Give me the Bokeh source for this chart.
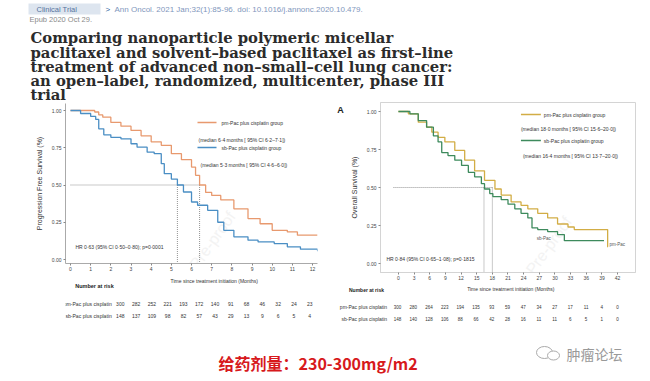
from bokeh.plotting import figure
from bokeh.layouts import column, row
from bokeh.models import Range1d, FixedTicker, NumeralTickFormatter
from bokeh.core.properties import value
from bokeh.embed import file_html
from bokeh.resources import INLINE

SANS = "Liberation Sans"
SERIF = "DejaVu Serif"
CJK = "Noto Sans CJK SC"

# ---------------- data ----------------
pfs_pm_t = [0, 1.2, 1.4, 1.6, 2.0, 2.5, 3.0, 3.5, 4.0, 4.5, 5.0, 5.5, 6.0, 6.2, 6.4, 6.7, 7.0, 7.45, 8.1, 8.8, 9.4, 10.0, 10.75, 11.25, 12.25]
pfs_pm_s = [1.0, 0.99, 0.97, 0.955, 0.92, 0.895, 0.866, 0.83, 0.79, 0.766, 0.71, 0.67, 0.62, 0.565, 0.50, 0.45, 0.43, 0.40, 0.34, 0.275, 0.24, 0.196, 0.185, 0.163, 0.163]
pfs_sb_t = [0, 0.5, 1.0, 1.25, 1.4, 1.65, 2.0, 2.5, 3.0, 3.3, 3.8, 4.15, 4.5, 4.65, 5.0, 5.3, 5.6, 6.0, 6.3, 6.8, 7.3, 7.6, 8.1, 8.8, 9.3, 10.1, 10.75, 11.4, 12.25]
pfs_sb_s = [1.0, 0.98, 0.96, 0.94, 0.877, 0.837, 0.82, 0.81, 0.777, 0.754, 0.72, 0.71, 0.643, 0.576, 0.54, 0.50, 0.453, 0.386, 0.364, 0.33, 0.25, 0.196, 0.152, 0.13, 0.118, 0.107, 0.085, 0.069, 0.056]

os_pm_t = [0, 1.9, 3.8, 5.4, 6.4, 7.6, 8.9, 10.8, 12.7, 14.6, 16.5, 18.5, 19.7, 21.6, 23.5, 24.8, 26.7, 28.6, 30.5, 32.5, 33.7, 40.1, 40.15]
os_pm_s = [1.0, 0.985, 0.93, 0.897, 0.864, 0.83, 0.80, 0.744, 0.68, 0.61, 0.547, 0.49, 0.45, 0.405, 0.383, 0.36, 0.33, 0.30, 0.26, 0.24, 0.223, 0.11, 0.11]
os_sb_t = [0, 2.2, 3.8, 5.4, 6.7, 7.6, 8.3, 9.5, 10.8, 12.1, 13.4, 14.6, 15.9, 16.5, 17.5, 18.1, 19.7, 21.0, 22.3, 23.5, 24.8, 25.6, 26.7, 28.6, 30.5, 31.8, 39.4]
os_sb_s = [1.0, 0.985, 0.94, 0.897, 0.84, 0.80, 0.73, 0.71, 0.68, 0.645, 0.60, 0.57, 0.525, 0.49, 0.46, 0.44, 0.42, 0.39, 0.36, 0.33, 0.30, 0.234, 0.223, 0.21, 0.19, 0.15, 0.15]

pfs_medians = [6.4, 5.3]
os_medians = [18.0, 16.4]

pfs_ticks = list(range(0, 13))
os_ticks = list(range(0, 43, 3))
surv_ticks = [0, 0.25, 0.5, 0.75, 1.0]

pfs_risk_pm = [300, 282, 252, 221, 193, 172, 140, 91, 68, 46, 32, 24, 23]
pfs_risk_sb = [148, 137, 109, 98, 82, 57, 43, 29, 13, 9, 6, 5, 4]
os_risk_pm = [300, 280, 264, 223, 194, 135, 93, 59, 47, 34, 27, 17, 11, 4, 0]
os_risk_sb = [148, 140, 128, 106, 88, 66, 42, 28, 16, 11, 11, 6, 5, 1, 0]

risk_rows = ["pm-Pac  plus cisplatin", "sb-Pac  plus cisplatin"]

pfs_legend = ["pm-Pac  plus cisplatin group", "(median 6\u00b74 months [ 95% CI  6\u00b72\u20137\u00b71])",
              "sb-Pac  plus cisplatin group", "(median 5\u00b73 months [ 95% CI  4\u00b76\u20136\u00b70])"]
os_legend = ["pm-Pac  plus cisplatin group", "(median 18\u00b70 months [ 95% CI  15\u00b76\u201320\u00b70])",
             "sb-Pac  plus cisplatin group", "(median 16\u00b74 months [ 95% CI  13\u00b77\u201320\u00b70])"]
pfs_hr = "HR 0\u00b763 (95% CI 0\u00b750\u20130\u00b780); p=0\u00b70001"
os_hr = "HR 0\u00b784 (95% CI 0\u00b765\u20131\u00b708); p=0\u00b71815"

title_lines = ["Comparing nanoparticle polymeric micellar",
               "paclitaxel and solvent\u2013based paclitaxel as first\u2013line",
               "treatment of advanced non\u2013small\u2013cell lung cancer:",
               "an open\u2013label, randomized, multicenter, phase III",
               "trial"]

ORANGE = "#e8996e"
BLUE = "#4a8ec4"
GOLD = "#d2ad45"
GREEN = "#3d8a5c"
TXT = "#333333"


def fs(px):
    return value(f"{px}px")


def blank(w, h, xr, yr):
    p = figure(width=w, height=h, x_range=xr, y_range=yr, output_backend="svg",
               toolbar_location=None, min_border=0, x_axis_type=None, y_axis_type=None,
               title=None)
    p.grid.visible = False
    p.outline_line_color = None
    p.background_fill_color = "white"
    p.border_fill_color = "white"
    return p


def km(w, h, xr, yr, mb, xticks, outline):
    p = figure(width=w, height=h, x_range=xr, y_range=yr, output_backend="svg",
               toolbar_location=None, title=None,
               min_border_left=mb[0], min_border_right=mb[1],
               min_border_top=mb[2], min_border_bottom=mb[3])
    p.grid.visible = False
    p.outline_line_color = outline
    p.border_fill_color = "white"
    for ax in (p.xaxis[0], p.yaxis[0]):
        ax.axis_line_color = "#aaaaaa" if outline is None else outline
        ax.major_tick_line_color = "#888888"
        ax.minor_tick_line_color = None
        ax.major_tick_in = 0
        ax.major_tick_out = 2
        ax.major_label_text_font = SANS
        ax.major_label_text_font_size = "5px"
        ax.major_label_text_color = "#444444"
        ax.axis_label_text_font = SANS
        ax.axis_label_text_font_style = "normal"
        ax.axis_label_text_color = TXT
    p.xaxis.ticker = FixedTicker(ticks=xticks)
    p.yaxis.ticker = FixedTicker(ticks=surv_ticks)
    p.yaxis.formatter = NumeralTickFormatter(format="0.00")
    p.xaxis.major_label_standoff = 1
    p.yaxis.major_label_standoff = 2
    return p


# ---------------- header ----------------
W = 650
head = blank(W, 102, Range1d(0, 650), Range1d(102, 0))
head.quad(left=[28], right=[100], top=[3], bottom=[14], fill_color="#dde5ef", line_color=None)
head.text(x=[36], y=[8.5], text=["Clinical Trial"], text_font=value(SANS), text_font_size=fs(7.5),
          text_color="#55739e", text_baseline="middle")
head.text(x=[105], y=[8.5], text=[">"], text_font=value(SANS), text_font_size=fs(8),
          text_color="#2f5f9e", text_baseline="middle")
head.text(x=[114], y=[8.5], text=["Ann Oncol. 2021 Jan;32(1):85-96. doi: 10.1016/j.annonc.2020.10.479."],
          text_font=value(SANS), text_font_size=fs(8), text_color="#7f97bd", text_baseline="middle")
head.text(x=[29], y=[19], text=["Epub 2020 Oct 29."], text_font=value(SANS), text_font_size=fs(7.5),
          text_color="#8a8a8a", text_baseline="middle")
head.text(x=[30] * 5, y=[37, 51.5, 66, 80, 93.5], text=title_lines, text_font=value(SERIF),
          text_font_style="bold", text_font_size=fs(14.8), text_color="#2b2b2b", text_baseline="middle")


# ---------------- left KM (PFS) ----------------
def t_l(px):
    return (px - 70) / 20.17


def s_l(py):
    return (259 - py) / 149


kl = km(322, 175, Range1d(t_l(65), t_l(317)), Range1d(s_l(263), s_l(103)), (65, 5, 1, 14), pfs_ticks, None)
kl.yaxis.axis_label = "Progression Free Survival (%)"
kl.yaxis.axis_label_text_font_size = "7px"
kl.yaxis.axis_label_standoff = 6
kl.text(x=[t_l(212)], y=[s_l(240)], text=["Pre-proof"], text_font=value(SANS), text_font_size=fs(16),
        text_color="#f3f3f3", text_align="center", text_baseline="middle", angle=0.95)
kl.segment(x0=[0], y0=[0.5], x1=[max(pfs_medians)], y1=[0.5], line_color="#777777", line_dash="1 1", line_width=0.8)
kl.segment(x0=pfs_medians, y0=[0.5] * 2, x1=pfs_medians, y1=[s_l(263)] * 2, line_color="#777777",
           line_dash="1 1", line_width=0.8)
kl.step(pfs_pm_t, pfs_pm_s, mode="after", line_color=ORANGE, line_width=1.3)
kl.step(pfs_sb_t, pfs_sb_s, mode="after", line_color=BLUE, line_width=1.3)
kl.segment(x0=[t_l(197), t_l(197)], y0=[s_l(122), s_l(147)], x1=[t_l(216), t_l(216)], y1=[s_l(122), s_l(147)],
           line_color=[ORANGE, BLUE], line_width=1.3)
kl.text(x=[t_l(221), t_l(198), t_l(221), t_l(200)], y=[s_l(122), s_l(139), s_l(147), s_l(164)],
        text=pfs_legend, text_font=value(SANS), text_font_size=fs(5), text_color=TXT, text_baseline="middle")
kl.text(x=[t_l(75)], y=[s_l(246)], text=[pfs_hr], text_font=value(SANS), text_font_size=fs(5),
        text_color=TXT, text_baseline="middle")

rl = blank(322, 49, Range1d(t_l(0), t_l(322)), Range1d(326, 277))
rl.text(x=[t_l(191)], y=[280.5], text=["Time since treatment initiation  (Months)"], text_font=value(SANS),
        text_font_size=fs(5), text_color=TXT, text_align="center", text_baseline="middle")
rl.text(x=[t_l(37)], y=[285.5], text=["Number at risk"], text_font=value(SANS), text_font_style="bold",
        text_font_size=fs(5.5), text_color="#222222", text_align="center", text_baseline="middle")
rl.text(x=[t_l(61)] * 2, y=[303, 315], text=risk_rows, text_font=value(SANS), text_font_size=fs(5.1),
        text_color=TXT, text_align="right", text_baseline="middle")
rl.text(x=pfs_ticks, y=[303] * len(pfs_ticks), text=[str(v) for v in pfs_risk_pm], text_font=value(SANS),
        text_font_size=fs(5), text_color=TXT, text_align="center", text_baseline="middle")
rl.text(x=pfs_ticks, y=[315] * len(pfs_ticks), text=[str(v) for v in pfs_risk_sb], text_font=value(SANS),
        text_font_size=fs(5), text_color=TXT, text_align="center", text_baseline="middle")


# ---------------- right KM (OS) ----------------
def t_r(px):
    return (px - 397) / 5.238


def s_r(py):
    return (263 - py) / 152


astrip = blank(25, 181, Range1d(322, 347), Range1d(283, 102))
astrip.text(x=[340], y=[110], text=["A"], text_font=value(SANS), text_font_style="bold",
            text_font_size=fs(9), text_color="#222222", text_align="center", text_baseline="middle")

kr = km(303, 181, Range1d(t_r(379), t_r(635)), Range1d(s_r(272), s_r(102)), (32, 15, 0, 11), os_ticks, "#d4d4d4")
kr.yaxis.axis_label = "Overall Survival (%)"
kr.yaxis.axis_label_text_font_size = "7px"
kr.yaxis.axis_label_standoff = 6
kr.text(x=[t_r(548)], y=[s_r(245)], text=["Pre-proof"], text_font=value(SANS), text_font_size=fs(16),
        text_color="#f3f3f3", text_align="center", text_baseline="middle", angle=0.95)
kr.segment(x0=[t_r(392)], y0=[0.5], x1=[max(os_medians)], y1=[0.5], line_color="#777777", line_dash="1 1", line_width=0.8)
kr.segment(x0=os_medians, y0=[0.5] * 2, x1=os_medians, y1=[s_r(272)] * 2, line_color="#777777",
           line_dash="1 1", line_width=0.8)
kr.step(os_pm_t, os_pm_s, mode="after", line_color=GOLD, line_width=1.3)
kr.step(os_sb_t, os_sb_s, mode="after", line_color=GREEN, line_width=1.3)
kr.segment(x0=[t_r(520), t_r(520)], y0=[s_r(114), s_r(140)], x1=[t_r(540), t_r(540)], y1=[s_r(114), s_r(140)],
           line_color=[GOLD, GREEN], line_width=1.3)
kr.text(x=[t_r(543), t_r(520), t_r(543), t_r(522)], y=[s_r(114), s_r(128), s_r(140), s_r(155)],
        text=os_legend, text_font=value(SANS), text_font_size=fs(5), text_color=TXT, text_baseline="middle")
kr.text(x=[t_r(385)], y=[s_r(258)], text=[os_hr], text_font=value(SANS), text_font_size=fs(5),
        text_color=TXT, text_baseline="middle")
kr.text(x=[t_r(543), t_r(609)], y=[s_r(238), s_r(244)], text=["sb-Pac", "pm-Pac"], text_font=value(SANS),
        text_font_size=fs(4.5), text_color="#555555", text_baseline="middle", text_align=["center", "left"])

rr = blank(328, 43, Range1d(t_r(322), t_r(650)), Range1d(326, 283))
rr.text(x=[t_r(511)], y=[288.5], text=["Time since treatment initiation  (Months)"], text_font=value(SANS),
        text_font_size=fs(5), text_color=TXT, text_align="center", text_baseline="middle")
rr.text(x=[t_r(366)], y=[289.5], text=["Number at risk"], text_font=value(SANS), text_font_style="bold",
        text_font_size=fs(5), text_color="#222222", text_align="center", text_baseline="middle")
rr.text(x=[t_r(388)] * 2, y=[306, 318], text=risk_rows, text_font=value(SANS), text_font_size=fs(5),
        text_color=TXT, text_align="right", text_baseline="middle")
rr.text(x=os_ticks, y=[306] * len(os_ticks), text=[str(v) for v in os_risk_pm], text_font=value(SANS),
        text_font_size=fs(4.5), text_color=TXT, text_align="center", text_baseline="middle")
rr.text(x=os_ticks, y=[318] * len(os_ticks), text=[str(v) for v in os_risk_sb], text_font=value(SANS),
        text_font_size=fs(4.5), text_color=TXT, text_align="center", text_baseline="middle")

# ---------------- footer ----------------
foot = blank(W, 55, Range1d(0, 650), Range1d(381, 326))
foot.text(x=[218], y=[362], text=["\u7ed9\u836f\u5242\u91cf\uff1a230-300mg/m2"], text_font=value(CJK),
          text_font_style="bold", text_font_size=fs(16), text_color="#d7191c", text_baseline="middle")
foot.ellipse(x=[544, 553], y=[352, 355], width=[16, 12], height=[12, 9], fill_color="white",
             line_color="#aaaaaa", line_width=1)
foot.text(x=[566], y=[353], text=["\u80bf\u7624\u8bba\u575b"], text_font=value(CJK), text_font_size=fs(14),
          text_color="#999999", text_baseline="middle")

left_col = column(kl, rl, spacing=0)
right_col = column(row(astrip, kr, spacing=0), rr, spacing=0)
layout = column(head, row(left_col, right_col, spacing=0), foot, spacing=0)
open("out.html", "w").write(file_html(layout, INLINE))
